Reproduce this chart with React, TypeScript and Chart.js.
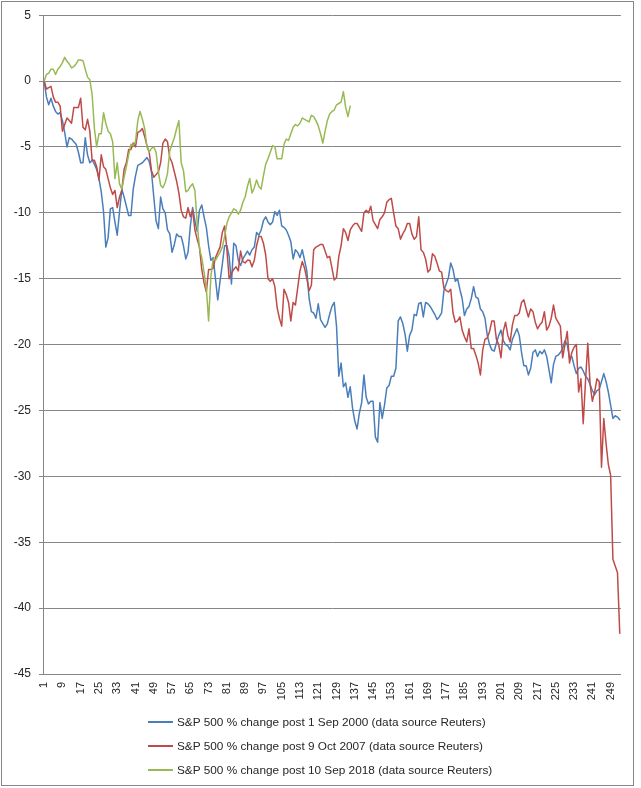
import React, { useEffect, useRef } from "react";
import { Chart, registerables } from "chart.js";

Chart.register(...registerables);

// Trading-day index (category axis)
const dayCount = 253;
const categories: string[] = Array.from({ length: dayCount }, (_, i) => String(i + 1));

// S&P 500 % change post 1 Sep 2000
const sp2000: number[] = [
  0, -1.2, -1.8, -1.3, -1.9, -2.3, -2.5, -2.4, -3.0, -3.9,
  -5.0, -4.3, -4.4, -4.6, -4.8, -5.4, -6.2, -6.2, -4.3, -5.6,
  -6.2, -6.0, -6.3, -6.7, -7.4, -8.4, -9.9, -12.6, -11.9, -9.7,
  -9.6, -10.7, -11.7, -9.9, -8.2, -8.8, -9.5, -10.2, -10.2, -8.2,
  -7.2, -6.4, -6.3, -6.2, -6.0, -5.8, -6.1, -6.9, -8.8, -10.6,
  -11.2, -8.8, -9.7, -10.0, -11.3, -11.6, -13.0, -12.4, -11.6, -11.8,
  -11.8, -12.5, -13.5, -13.0, -11.0, -9.6, -10.6, -11.4, -9.8, -9.4,
  -10.3, -11.1, -12.5, -13.6, -13.4, -15.0, -16.6, -15.2, -13.9, -12.5,
  -12.5, -13.3, -15.4, -12.3, -12.5, -13.6, -14.0, -13.5, -13.2, -12.9,
  -13.2, -12.8, -12.6, -11.5, -11.7, -11.3, -10.6, -10.3, -10.7, -10.9,
  -10.7, -9.9, -10.2, -9.8, -11.0, -11.1, -11.3, -11.7, -12.2, -13.5,
  -12.8, -13.0, -13.4, -12.8, -13.6, -14.4, -16.5, -17.5, -17.6, -18.0,
  -16.9, -18.1, -18.4, -18.7, -18.4, -17.7, -17.1, -16.8, -18.6, -22.4,
  -21.4, -23.2, -22.9, -24.0, -23.2, -24.8, -25.8, -26.4, -25.2, -24.4,
  -22.3, -24.0, -24.5, -24.3, -24.3, -27.0, -27.4, -24.4, -25.6, -24.6,
  -23.3, -23.1, -22.4, -22.4, -21.8, -18.2, -17.9, -18.4, -19.2, -20.5,
  -19.3, -18.9, -17.7, -17.8, -16.9, -16.8, -17.9, -16.8, -16.9, -17.1,
  -17.4, -17.7, -18.1, -17.9, -17.6, -15.9, -15.4, -14.9, -13.8, -14.3,
  -15.2, -15.0, -15.8, -16.5, -17.8, -17.3, -17.1, -16.5, -15.6, -16.4,
  -16.5, -17.3, -17.5, -18.0, -19.3, -20.0, -20.4, -20.5, -19.9, -19.3,
  -18.9, -19.7, -20.0, -20.1, -20.4, -19.6, -19.2, -18.8, -19.3, -20.6,
  -21.6, -21.6, -22.3, -21.8, -20.6, -20.4, -20.9, -20.5, -20.7, -20.4,
  -20.9, -21.9, -22.9, -21.5, -20.9, -20.8, -20.6, -20.3, -19.7, -20.0,
  -21.0, -20.9, -21.6, -22.2, -21.8, -21.7, -22.0, -22.4, -22.6, -23.0,
  -23.5, -23.8, -23.5, -23.4, -22.8, -22.2, -22.8, -23.6, -24.6, -25.6,
  -25.4, -25.5, -25.7,
];

// S&P 500 % change post 9 Oct 2007
const sp2007: number[] = [
  0, -0.6, -0.5, -0.4, -1.2, -1.6, -1.6, -1.9, -3.8, -3.3,
  -2.8, -3.0, -3.2, -2.0, -2.0, -2.0, -1.3, -3.5, -3.7, -2.9,
  -3.8, -6.0, -6.0, -6.5, -7.5, -5.6, -6.5, -6.7, -7.4, -8.1,
  -8.6, -8.3, -9.6, -8.8, -8.3, -6.7, -6.2, -5.2, -5.2, -4.7,
  -5.0, -3.9, -3.8, -3.6, -4.2, -4.9, -5.4, -6.8, -7.3, -7.1,
  -6.9, -6.2, -4.7, -4.4, -4.6, -5.8, -6.2, -6.9, -7.6, -8.5,
  -9.8, -10.3, -10.4, -9.6, -10.3, -9.8, -11.3, -12.0, -12.6, -14.3,
  -15.3, -16.0, -14.3, -14.3, -14.2, -13.4, -13.0, -12.6, -11.5, -11.0,
  -12.8, -15.0, -14.6, -14.3, -14.1, -14.4, -12.9, -13.7, -13.8, -13.6,
  -13.6, -14.1, -13.6, -12.5, -11.8, -11.8, -12.3, -13.2, -15.0, -15.2,
  -15.0, -15.6, -17.2, -18.0, -18.6, -15.8, -16.2, -16.8, -18.2, -16.8,
  -17.0, -15.7, -14.4, -13.7, -14.2, -15.0, -15.9, -15.5, -12.8, -12.6,
  -12.5, -12.4, -12.4, -12.9, -13.4, -13.3, -14.2, -15.1, -14.9, -13.3,
  -12.5, -11.2, -11.5, -12.1, -11.3, -11.0, -10.8, -10.8, -11.1, -11.4,
  -10.0, -9.8, -10.0, -9.5, -10.6, -10.9, -11.2, -10.5, -10.3, -10.0,
  -9.2, -9.0, -8.9, -10.0, -11.0, -11.2, -12.0, -11.6, -11.3, -10.8,
  -10.8, -11.6, -12.0, -11.8, -10.3, -12.8, -13.0, -13.5, -14.5, -14.3,
  -13.1, -13.3, -13.8, -14.4, -14.5, -15.7, -15.9, -16.0, -15.8, -17.6,
  -18.3, -18.2, -17.9, -18.9, -19.4, -19.8, -18.8, -20.3, -20.3, -20.8,
  -21.4, -22.3, -20.4, -19.6, -19.5, -19.0, -18.2, -18.2, -19.6, -20.0,
  -21.0, -19.0, -18.3, -19.3, -19.8, -18.5, -17.8, -17.8, -17.6, -16.8,
  -16.6, -17.3, -17.9, -17.3, -17.5, -18.3, -18.8, -18.5, -18.3, -17.5,
  -18.9, -18.6, -18.0, -17.0, -18.0, -18.3, -18.6, -21.0, -20.0, -19.0,
  -21.4, -20.6, -20.2, -20.0, -23.6, -22.6, -26.0, -22.8, -19.9, -23.0,
  -24.3, -23.6, -22.6, -22.8, -29.3, -25.6, -27.5, -29.1, -29.9, -36.3,
  -36.8, -37.3, -41.9,
];

// S&P 500 % change post 10 Sep 2018
const sp2018: number[] = [
  0, 0.5, 0.6, 0.9, 0.9, 0.5, 0.9, 1.1, 1.4, 1.8,
  1.5, 1.3, 1.0, 1.1, 1.3, 1.6, 1.6, 1.55, 0.9, 0.3,
  0.1, -1.0, -3.6, -5.0, -4.0, -4.0, -2.4, -3.2, -3.8, -4.0,
  -4.6, -7.4, -6.2, -7.8, -8.2, -7.3, -6.5, -5.6, -4.8, -4.9,
  -4.6, -3.0, -2.3, -2.9, -3.6, -5.0, -5.4, -5.1, -5.0, -5.4,
  -6.9, -7.9, -8.1, -7.7, -7.0, -5.3, -4.8, -4.3, -3.6, -3.0,
  -6.2, -6.8, -8.4, -8.3, -8.0, -7.8, -8.3, -10.8, -12.7, -13.4,
  -14.5, -15.7, -18.2, -14.8, -13.5, -13.6, -13.3, -13.0, -12.6, -11.8,
  -10.8, -10.3, -10.0, -9.7, -9.8, -10.1, -9.8, -9.2, -8.8, -8.0,
  -7.4, -8.5, -8.1, -7.5, -8.0, -8.2, -7.2, -6.3, -5.9, -5.4,
  -4.9, -5.0, -5.9, -5.9, -5.9, -4.8, -4.4, -4.5, -4.0, -3.5,
  -3.3, -3.4, -3.2, -2.8, -2.9, -3.0, -3.1, -2.6, -2.7, -3.0,
  -3.4, -4.0, -4.7, -3.8, -3.0, -2.5, -2.3, -2.2, -1.8, -1.7,
  -1.6, -0.8, -2.0, -2.7, -1.9,
];

const seriesNames: string[] = [
  "S&P 500 % change post 1 Sep 2000 (data source Reuters)",
  "S&P 500 % change post 9 Oct 2007 (data source Reuters)",
  "S&P 500 % change post 10 Sep 2018 (data source Reuters)",
];
const seriesColors: string[] = ["#4A7EBB", "#BE4B48", "#98B954"];
const seriesData: number[][] = [sp2000, sp2007, sp2018];

const yMin = -45;
const yMax = 5;
const yStep = 5;
const xLabelEvery = 8;

const FONT = "'Liberation Sans', Arial, sans-serif";
const GRID = "#868686";
const TEXT = "#262626";

export default function App() {
  const canvasRef = useRef<HTMLCanvasElement | null>(null);

  useEffect(() => {
    const canvas = canvasRef.current;
    if (!canvas) return;
    const chart = new Chart(canvas, {
      type: "line",
      data: {
        labels: categories,
        datasets: seriesData.map((d, i) => ({
          label: seriesNames[i],
          data: d,
          borderColor: seriesColors[i],
          backgroundColor: seriesColors[i],
          borderWidth: 1.5,
          pointRadius: 0,
          tension: 0,
          fill: false,
          borderJoinStyle: "round" as const,
          borderCapStyle: "round" as const,
          order: 2 - i,
        })),
      },
      options: {
        responsive: false,
        animation: false,
        devicePixelRatio: 1,
        layout: { padding: { left: 0, right: 18.6, top: 12, bottom: 74 } },
        plugins: {
          legend: { display: false },
          tooltip: { enabled: false },
        },
        scales: {
          x: {
            type: "category",
            offset: true,
            grid: { display: false, drawTicks: false },
            border: { display: true, color: GRID, width: 1 },
            ticks: {
              autoSkip: false,
              maxRotation: 90,
              minRotation: 90,
              padding: 8,
              color: TEXT,
              font: { family: FONT, size: 11 },
              callback: function (this: any, value: any, index: number) {
                return index % xLabelEvery === 0 ? this.getLabelForValue(value) : "";
              },
            },
            afterFit: (scale: any) => {
              scale.height = 40;
            },
          },
          y: {
            min: yMin,
            max: yMax,
            ticks: {
              stepSize: yStep,
              padding: 8,
              color: TEXT,
              font: { family: FONT, size: 12 },
            },
            grid: { color: GRID, lineWidth: 1, drawTicks: true, tickLength: 4 },
            border: { display: true, color: GRID, width: 1 },
            afterFit: (scale: any) => {
              scale.width = 43;
            },
          },
        },
      },
    });
    return () => chart.destroy();
  }, []);

  const legendRowsY = [722, 746, 770];

  return (
    <div
      style={{
        position: "absolute",
        left: 0,
        top: 0,
        width: 641,
        height: 788,
        background: "#ffffff",
        overflow: "hidden",
      }}
    >
      <canvas
        ref={canvasRef}
        width={641}
        height={788}
        style={{ position: "absolute", left: 0, top: 0, width: 641, height: 788 }}
      />
      <div
        style={{
          position: "absolute",
          left: 1,
          top: 1,
          width: 633,
          height: 785,
          border: `1px solid ${GRID}`,
          boxSizing: "border-box",
          pointerEvents: "none",
        }}
      />
      {seriesNames.map((name, i) => (
        <div
          key={name}
          style={{
            position: "absolute",
            left: 148,
            top: legendRowsY[i] - 8,
            height: 16,
            whiteSpace: "nowrap",
          }}
        >
          <div
            style={{
              position: "absolute",
              left: 0,
              top: 7,
              width: 25,
              height: 2,
              background: seriesColors[i],
            }}
          />
          <div
            style={{
              position: "absolute",
              left: 29,
              top: 0,
              fontFamily: FONT,
              fontSize: 11.8,
              color: TEXT,
              lineHeight: "16px",
            }}
          >
            {name}
          </div>
        </div>
      ))}
    </div>
  );
}
